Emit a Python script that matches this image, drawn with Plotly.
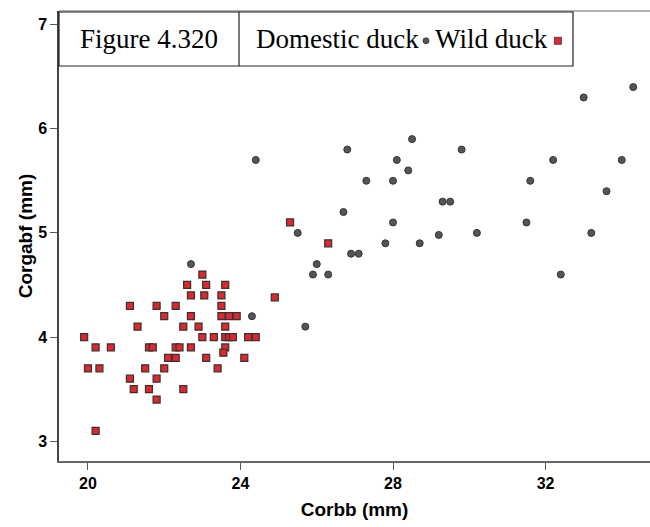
import plotly.graph_objects as go

# Domestic duck (grey circles)
domestic_x = [34.3, 33.0, 29.8, 32.2, 34.0, 31.6, 33.6, 29.3, 29.5, 29.2, 30.2, 31.5, 33.2, 32.4,
              28.5, 26.8, 24.4, 28.1, 28.4, 27.3, 28.0, 26.7, 28.0, 25.5, 27.8, 28.7, 26.9, 27.1,
              26.0, 25.9, 26.3, 24.3, 25.7, 22.7]
domestic_y = [6.4, 6.3, 5.8, 5.7, 5.7, 5.5, 5.4, 5.3, 5.3, 4.98, 5.0, 5.1, 5.0, 4.6,
              5.9, 5.8, 5.7, 5.7, 5.6, 5.5, 5.5, 5.2, 5.1, 5.0, 4.9, 4.9, 4.8, 4.8,
              4.7, 4.6, 4.6, 4.2, 4.1, 4.7]

# Wild duck (red squares)
wild_x = [23.0, 22.6, 23.1, 23.6, 22.7, 23.05, 23.5, 24.9, 21.1, 21.8, 22.3, 23.5,
          22.0, 22.7, 23.5, 23.7, 23.9, 21.3, 22.5, 22.9, 23.6,
          19.9, 23.0, 23.3, 23.6, 23.7, 23.8, 24.2, 24.4,
          20.2, 20.6, 21.6, 21.7, 22.3, 22.4, 22.7, 23.6, 23.55,
          22.1, 22.3, 23.1, 24.1, 20.0, 20.3, 21.5, 22.0, 23.4,
          21.1, 21.8, 21.2, 21.6, 22.5, 21.8, 20.2, 25.3, 26.3]
wild_y = [4.6, 4.5, 4.5, 4.5, 4.4, 4.4, 4.4, 4.38, 4.3, 4.3, 4.3, 4.3,
          4.2, 4.2, 4.2, 4.2, 4.2, 4.1, 4.1, 4.1, 4.1,
          4.0, 4.0, 4.0, 4.0, 4.0, 4.0, 4.0, 4.0,
          3.9, 3.9, 3.9, 3.9, 3.9, 3.9, 3.9, 3.9, 3.85,
          3.8, 3.8, 3.8, 3.8, 3.7, 3.7, 3.7, 3.7, 3.7,
          3.6, 3.6, 3.5, 3.5, 3.5, 3.4, 3.1, 5.1, 4.9]

x_ticks = [20, 24, 28, 32]
y_ticks = [3, 4, 5, 6, 7]

GREY = "#555555"
RED = "#e3262c"
EDGE = "#333333"
bold = dict(family="Liberation Sans, Arial", size=16, color="#000000", weight=700)
title_font = dict(family="Liberation Sans, Arial", size=19, color="#000000", weight=700)

fig = go.Figure()
fig.add_trace(go.Scatter(x=domestic_x, y=domestic_y, mode="markers", name="Domestic duck",
                         marker=dict(symbol="circle", size=7, color=GREY,
                                     line=dict(color=EDGE, width=1))))
fig.add_trace(go.Scatter(x=wild_x, y=wild_y, mode="markers", name="Wild duck",
                         marker=dict(symbol="square", size=7, color=RED,
                                     line=dict(color=EDGE, width=1.2))))

fig.update_layout(
    width=650, height=527,
    margin=dict(l=59, r=0, t=11, b=66),
    paper_bgcolor="white", plot_bgcolor="white",
    showlegend=False,
    xaxis=dict(range=[19.24, 34.74], tickvals=x_ticks, ticks="outside", ticklen=7,
               tickcolor="#555555", tickwidth=1, showgrid=False, zeroline=False,
               showline=True, linecolor="#666666", linewidth=1.5, tickfont=bold,
               title=dict(text="Corbb (mm)", font=title_font, standoff=12)),
    yaxis=dict(range=[2.81, 7.13], tickvals=y_ticks, ticks="outside", ticklen=7,
               tickcolor="#555555", tickwidth=1, showgrid=False, zeroline=False,
               showline=True, linecolor="#444444", linewidth=1.5, tickfont=bold,
               title=dict(text="Corgabf (mm)", font=title_font, standoff=0)),
)

# top frame line
fig.add_shape(type="line", xref="paper", yref="paper", x0=0, x1=1, y0=1, y1=1,
              line=dict(color="#999999", width=1.5))

# title / legend box
box_y0, box_y1 = 0.8778, 0.9978
fig.add_shape(type="rect", xref="paper", yref="paper", x0=0, x1=0.8697, y0=box_y0, y1=box_y1,
              line=dict(color="#222222", width=1.2), fillcolor="white")
fig.add_shape(type="line", xref="paper", yref="paper", x0=0.3046, x1=0.3046, y0=box_y0, y1=box_y1,
              line=dict(color="#222222", width=1.2))

serif = dict(family="Liberation Serif, Times New Roman", size=27, color="#000000")
mid = (box_y0 + box_y1) / 2
fig.add_annotation(text="Figure 4.320", xref="paper", yref="paper", x=0.1523, y=mid,
                   xanchor="center", yanchor="middle", showarrow=False, font=serif)
fig.add_annotation(text="Domestic duck", xref="paper", yref="paper", x=0.6125, y=mid,
                   xanchor="right", yanchor="middle", showarrow=False, font=serif)
fig.add_annotation(text="Wild duck", xref="paper", yref="paper", x=0.6328, y=mid,
                   xanchor="left", yanchor="middle", showarrow=False, font=serif)

# legend symbols (after the text, as in the reference)
cy = mid - 0.004
fig.add_shape(type="circle", xref="paper", yref="paper", x0=0.6159, x1=0.6261,
              y0=cy - 0.0067, y1=cy + 0.0067, fillcolor=GREY, line=dict(color=EDGE, width=0.8))
fig.add_shape(type="rect", xref="paper", yref="paper", x0=0.8383, x1=0.8501,
              y0=cy - 0.0078, y1=cy + 0.0078, fillcolor=RED, line=dict(color=EDGE, width=0.8))

fig.write_html("out.html", config={"displayModeBar": False},
               post_script="document.body.style.margin='0px';")
